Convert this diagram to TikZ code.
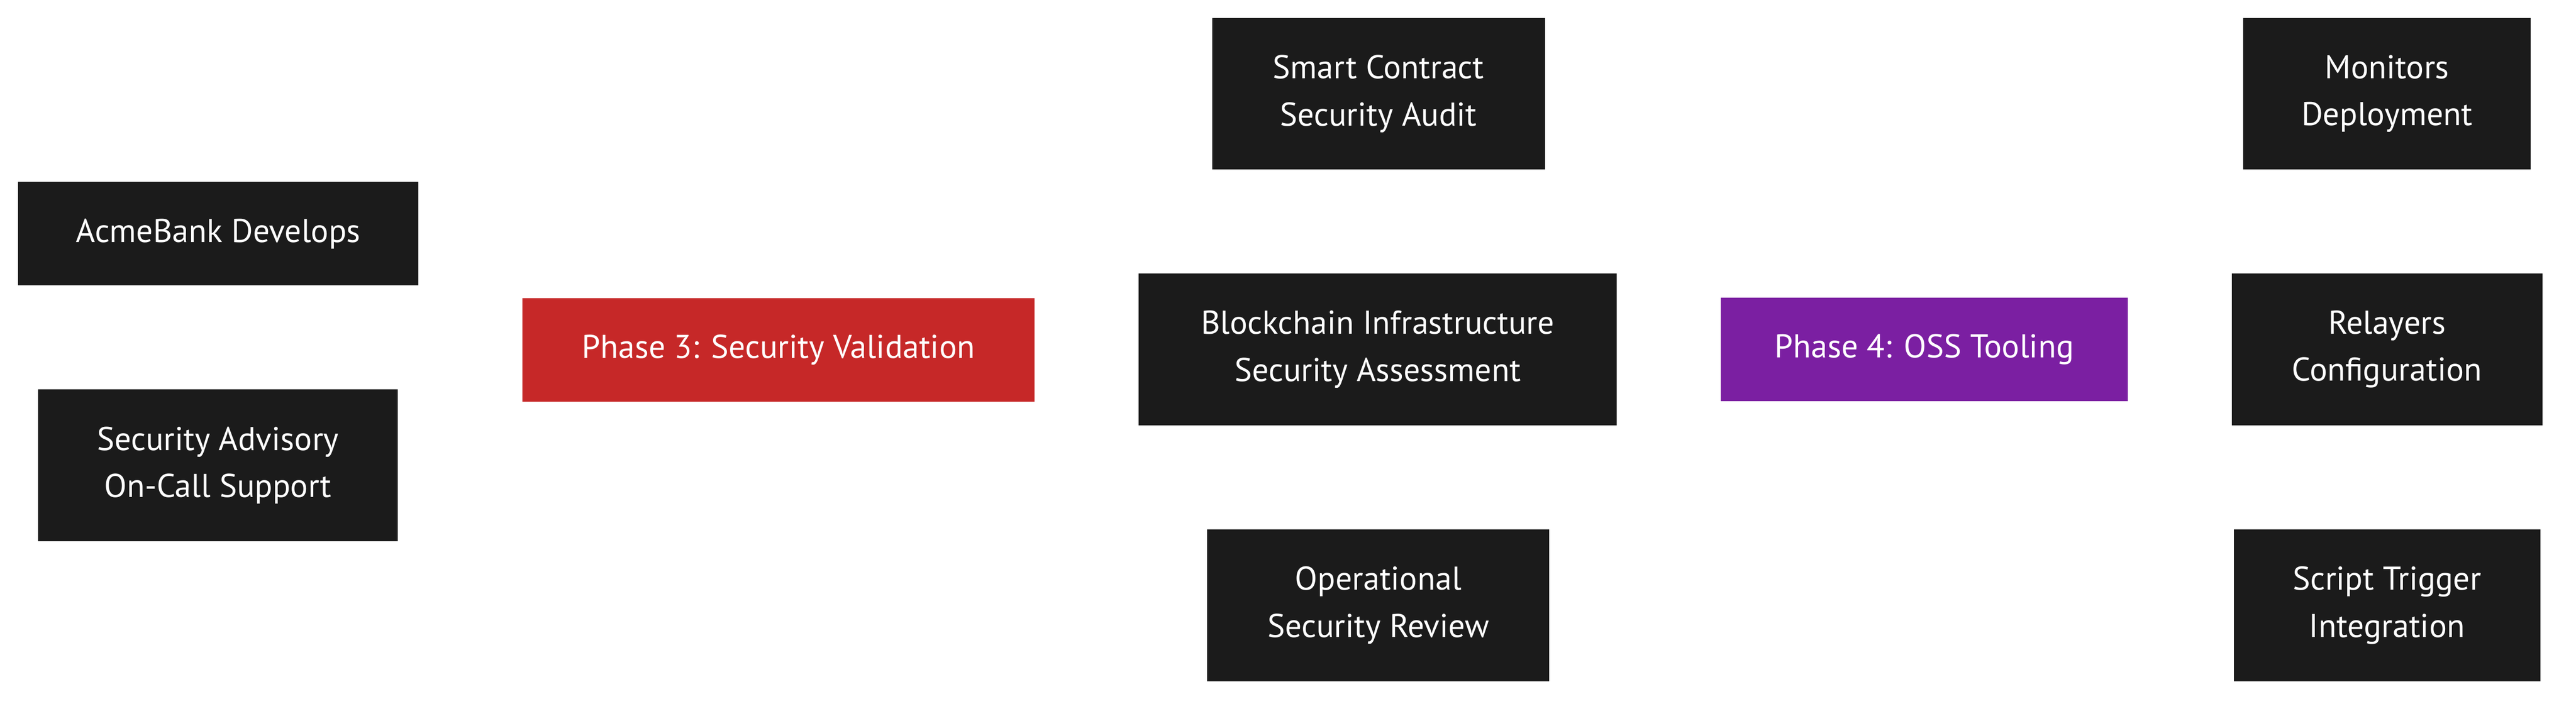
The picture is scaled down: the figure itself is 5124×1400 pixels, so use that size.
\documentclass[tikz,border=0pt]{standalone}
\usepackage{fontspec}
\setmainfont{PT Sans}
\definecolor{boxdark}{HTML}{1B1B1B}
\definecolor{phasered}{HTML}{C62828}
\definecolor{phasepurple}{HTML}{7B1FA2}
\tikzset{
  basebox/.style={rectangle, inner sep=0pt, outer sep=0pt, align=center, text=white,
    font=\fontsize{16.4pt}{23.5pt}\selectfont},
  darkbox/.style={basebox, fill=boxdark},
  redbox/.style={basebox, fill=phasered},
  purplebox/.style={basebox, fill=phasepurple},
  oneline/.style={minimum height=51.5pt},
  twoline/.style={minimum height=75.5pt}
}
\begin{document}
\begin{tikzpicture}[x=0.25pt,y=-0.25pt]
\useasboundingbox[fill=white] (0,0) rectangle (5124,1400);
\node[darkbox, oneline, minimum width=199pt] (acme) at (434,465) {AcmeBank Develops};
\node[darkbox, twoline, minimum width=178.75pt] (adv) at (433.5,926) {Security Advisory\\On-Call Support};
\node[redbox, oneline, minimum width=254.75pt] (p3) at (1548.5,696) {Phase 3: Security Validation};
\node[darkbox, twoline, minimum width=165.5pt] (sca) at (2742,186.5) {Smart Contract\\Security Audit};
\node[darkbox, twoline, minimum width=237.75pt] (bisa) at (2740.5,695) {Blockchain Infrastructure\\Security Assessment};
\node[darkbox, twoline, minimum width=170.25pt] (osr) at (2741.5,1204.5) {Operational\\Security Review};
\node[purplebox, oneline, minimum width=202.25pt] (p4) at (3827.5,695.5) {Phase 4: OSS Tooling};
\node[darkbox, twoline, minimum width=143pt] (mon) at (4748,186.5) {Monitors\\Deployment};
\node[darkbox, twoline, minimum width=154.5pt] (rel) at (4748,695) {Relayers\\Configuration};
\node[darkbox, twoline, minimum width=152.5pt] (sti) at (4748,1204.5) {Script Trigger\\Integration};
\end{tikzpicture}
\end{document}
